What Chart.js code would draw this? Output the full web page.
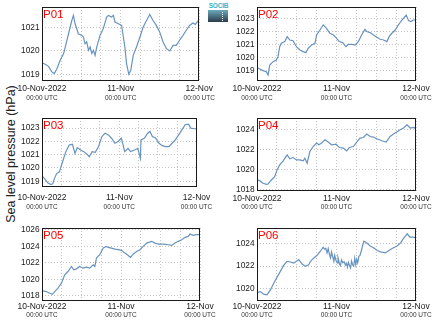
<!DOCTYPE html>
<html><head><meta charset="utf-8">
<script src="https://cdn.jsdelivr.net/npm/chart.js@4.4.0/dist/chart.umd.min.js"></script>
<style>
html,body{margin:0;padding:0;background:#fff;}
#fig{position:relative;width:434px;height:327px;overflow:hidden;background:#fff;font-family:"Liberation Sans",Arial,sans-serif;}
canvas{position:absolute;}
.plab{position:absolute;color:#ff0000;font-size:11.5px;line-height:11.5px;white-space:nowrap;}
#ytitle{position:absolute;left:-89px;top:147px;width:200px;height:14px;line-height:14px;text-align:center;font-size:12.5px;color:#222;transform:rotate(-90deg);white-space:nowrap;}
#logoText{position:absolute;left:208px;top:2px;width:21px;text-align:center;font-size:6.5px;line-height:7px;font-weight:bold;color:#3ab3c8;letter-spacing:-0.2px;}
#logoBox{position:absolute;left:208px;top:10px;width:20px;height:12px;background:linear-gradient(#6aaabb,#2c3c4a);}
#logoDots{position:absolute;left:14px;top:2px;height:9px;border-left:1px dotted #fff;}
</style></head>
<body><div id="fig">
<div id="ytitle">Sea level pressure (hPa)</div>
<div id="logoText">SOCIB</div>
<div id="logoBox"><div id="logoDots"></div></div>
</div>
<script>
// ---- data (hours since 10-Nov-2022 00:00 UTC, sea level pressure in hPa) ----
const panelNames = ['P01','P02','P03','P04','P05','P06'];
const xTickHours = [0, 24, 48];
const xTickLabels = ['10-Nov-2022', '11-Nov', '12-Nov'];
const xSubLabel = '00:00 UTC';
const xGridHours = [0, 6, 12, 18, 24, 30, 36, 42, 48];

const p01Hours = [0,1,2,3,3.75,4.55,5.55,6.6,7.1,8.1,9.1,9.6,10.1,11.1,12.15,12.65,13.15,13.65,14.2,14.7,15.2,15.7,16.2,16.7,17.7,18.7,19.75,20.25,21.25,21.8,22.3,23.3,24.3,25.3,25.8,26.5,27.1,27.85,28.85,29.9,30.9,31.9,32.9,33.9,34.9,35.95,36.95,38,39,40,41,42,43.05,44.05,45.05,46.1,46.8,47.6,48];
const p01Values = [1019.49,1019.43,1019.34,1019.10,1019.03,1019.24,1019.60,1019.89,1020.17,1020.74,1021.31,1021.53,1021.17,1020.74,1020.67,1020.60,1020.31,1020.39,1020.03,1020.17,1019.89,1020.03,1019.81,1020.17,1020.67,1020.96,1021.46,1021.53,1021.46,1021.53,1021.24,1021.17,1021.10,1020.17,1019.46,1019.00,1019.17,1019.81,1020.17,1020.60,1021.03,1021.31,1021.57,1021.31,1021.10,1020.81,1020.39,1020.10,1020.00,1020.24,1020.24,1020.46,1020.67,1020.89,1021.10,1021.20,1021.14,1021.29,1021.31];

const p02Hours = [0,0.8,1.8,2.8,3.35,3.85,4.85,5.85,6.35,6.85,7.35,8.4,9.1,9.9,10.9,11.9,12.95,13.95,14.75,15.45,16.45,17.5,18,19,20,21,22,23.05,24.05,24.85,25.85,26.85,27.6,28.6,29.6,30.6,31.6,32.6,33.15,34.15,35.15,36.15,37.2,38.2,39.2,39.9,40.7,41.7,42.7,43.75,45.05,45.75,46.45,47.25,48];
const p02Values = [1019.26,1019.15,1019.03,1018.95,1018.70,1019.46,1019.72,1019.85,1020.10,1020.87,1021.13,1021.26,1021.64,1021.38,1021.33,1020.87,1020.62,1020.49,1020.41,1020.74,1021.00,1021.13,1021.77,1022.15,1022.54,1022.28,1021.90,1021.77,1021.51,1021.26,1021.18,1020.87,1021.05,1021.05,1021.00,1021.26,1021.77,1022.20,1022.03,1021.95,1021.77,1021.59,1021.44,1021.38,1021.26,1021.64,1021.90,1022.15,1022.54,1022.92,1023.30,1022.87,1022.80,1022.92,1022.92];

const p03Hours = [0,0.8,1.85,2.85,3.35,3.85,4.55,5.4,6.4,7.4,8.45,9.45,10.25,10.95,12,13,14,14.7,15.55,16.55,17.55,18.6,19.6,20.6,21.6,22.65,23.65,24.65,25.7,26.7,27.5,28.75,29.75,30.55,30.75,31.8,32.8,33.5,34.3,35.35,36.35,37.35,38.4,39.4,40.4,41.4,42.45,43.45,44.45,45.5,46.2,47.2,48];
const p03Values = [1019.40,1019.20,1018.87,1018.75,1018.82,1019.20,1019.58,1019.71,1020.47,1021.23,1021.73,1021.78,1021.10,1021.53,1021.35,1021.23,1021.03,1020.85,1021.23,1021.18,1021.61,1022.37,1022.62,1022.49,1022.24,1021.86,1021.99,1022.24,1021.23,1021.48,1021.23,1021.35,1021.48,1020.72,1022.11,1022.24,1022.62,1022.75,1022.37,1022.24,1021.86,1021.68,1021.61,1021.61,1021.86,1022.11,1022.49,1022.87,1023.25,1023.30,1023.00,1022.95,1022.95];

const p04Hours = [0,0.8,1.8,2.85,3.35,4.35,5.35,6.05,6.85,7.9,9.1,9.9,10.9,11.9,12.95,13.95,14.45,15.15,15.95,16.95,18,18.7,19.5,20.5,21.5,22.5,23.85,24.85,26.05,27.05,27.9,29.1,30.1,31.1,32.1,33.15,34.15,35.15,36.15,37.7,39,40.2,41.2,42.2,43.25,44.25,45.25,46.3,47.3,48];
const p04Values = [1019.00,1018.93,1018.67,1018.57,1018.60,1019.00,1019.33,1020.00,1020.50,1020.90,1021.50,1021.10,1021.23,1021.00,1021.00,1020.90,1021.17,1020.67,1021.83,1022.33,1022.67,1022.50,1022.67,1023.00,1022.77,1022.50,1022.57,1022.23,1022.17,1021.90,1022.23,1022.33,1022.77,1023.17,1023.23,1023.57,1023.33,1023.27,1023.10,1022.90,1022.77,1023.33,1023.57,1023.77,1024.00,1024.17,1024.50,1024.17,1024.23,1024.10];

const p05Hours = [0,1.3,2.35,3.15,3.85,4.85,5.9,6.9,7.9,8.95,9.65,10.45,11.45,12.5,13.5,14.5,15.55,16.05,16.55,17.55,18.6,19.6,20.1,21.1,22.15,23.15,24.15,25.2,26.2,26.9,27.7,28.75,29.75,30.75,31.8,33.3,34.3,35.35,36.85,38.4,39.4,40.4,41.4,42.45,43.45,44.45,44.95,46,47,48];
const p05Values = [1018.65,1018.53,1018.32,1018.20,1018.53,1018.93,1019.54,1020.55,1020.95,1021.56,1021.15,1021.27,1021.56,1021.35,1021.47,1021.35,1021.76,1021.56,1022.57,1022.97,1023.78,1023.98,1023.86,1023.78,1023.66,1023.58,1023.50,1023.17,1022.89,1022.65,1023.05,1023.37,1023.58,1023.98,1024.38,1024.59,1024.38,1024.26,1024.26,1024.18,1024.10,1024.38,1024.59,1024.79,1025.07,1025.19,1025.47,1025.31,1025.39,1025.39];

const p06Hours = [0,1,2,3,4.05,5.05,6.05,7.05,8.05,9.05,10.1,11.1,11.9,12.6,13.6,14.6,15.6,16.15,17.15,18.15,19.15,19.95,20.4,20.75,21.15,21.5,21.9,22.2,22.5,22.8,23.2,23.45,23.8,24.2,24.45,24.9,25.2,25.5,25.9,26.3,26.7,27.0,27.3,27.6,28.0,28.25,28.55,28.9,29.2,29.5,29.8,30.1,30.4,30.75,31.1,31.45,32.25,33.05,34.3,35.3,36.3,37.3,38.8,39.8,40.8,42.15,43.35,44.35,45.35,46.15,47.2,48];
const p06Values = [1019.67,1019.76,1019.53,1019.47,1019.91,1020.50,1021.01,1021.54,1022.07,1022.43,1022.37,1022.28,1022.43,1022.58,1022.19,1021.99,1022.13,1022.43,1022.73,1022.96,1023.32,1023.67,1023.50,1023.58,1023.17,1023.55,1023.00,1022.73,1023.25,1022.90,1022.43,1022.95,1022.55,1022.30,1022.75,1022.20,1022.05,1022.55,1022.30,1022.40,1022.10,1022.25,1021.90,1022.35,1022.00,1021.84,1022.45,1022.10,1022.00,1022.70,1022.15,1022.60,1022.30,1022.87,1022.95,1023.32,1024.21,1024.06,1023.76,1023.61,1023.38,1023.26,1023.17,1023.38,1023.56,1023.76,1024.06,1024.50,1024.86,1024.56,1024.56,1024.50];

const p01YTicks = [1019, 1020, 1021];
const p02YTicks = [1019, 1020, 1021, 1022, 1023];
const p03YTicks = [1019, 1020, 1021, 1022, 1023];
const p04YTicks = [1018, 1020, 1022, 1024];
const p05YTicks = [1018, 1020, 1022, 1024, 1026];
const p06YTicks = [1020, 1022, 1024];

// ---- layout (page pixels) ----
const layouts = [
  {cx:0,   cy:0,   cw:217, ch:107, L:42,  T:7,   R:200, B:81,  yMin:1018.71, yMax:1021.89, labY:88.8,  utcY:98.7},
  {cx:217, cy:0,   cw:217, ch:107, L:257, T:7,   R:416, B:81,  yMin:1018.23, yMax:1023.92, labY:88.8,  utcY:98.7},
  {cx:0,   cy:107, cw:217, ch:110, L:42,  T:118, R:200, B:187, yMin:1018.57, yMax:1023.76, labY:198,   utcY:207.5},
  {cx:217, cy:107, cw:217, ch:110, L:257, T:118, R:416, B:191, yMin:1017.90, yMax:1025.17, labY:198.3, utcY:207.5},
  {cx:0,   cy:217, cw:217, ch:110, L:42,  T:228, R:200, B:301, yMin:1017.39, yMax:1026.20, labY:306.3, utcY:315},
  {cx:217, cy:217, cw:217, ch:110, L:257, T:228, R:416, B:301, yMin:1018.93, yMax:1025.37, labY:306.5, utcY:315}
];
const series = [
  [p01Hours, p01Values, p01YTicks],
  [p02Hours, p02Values, p02YTicks],
  [p03Hours, p03Values, p03YTicks],
  [p04Hours, p04Values, p04YTicks],
  [p05Hours, p05Values, p05YTicks],
  [p06Hours, p06Values, p06YTicks]
];

const framePlugin = {
  id: 'frame',
  afterDraw(chart) {
    const a = chart.chartArea, ctx = chart.ctx;
    ctx.save();
    ctx.strokeStyle = '#1a1a1a';
    ctx.lineWidth = 1;
    const l = Math.round(a.left) + 0.5, t = Math.round(a.top) + 0.5;
    const r = Math.round(a.right) - 0.5, b = Math.round(a.bottom) - 0.5;
    ctx.strokeRect(l, t, r - l, b - t);
    ctx.restore();
  }
};

const fig = document.getElementById('fig');
const FONT = '"Liberation Sans", Arial, sans-serif';
const X1SIZE = 8.5, X2SIZE = 6.5, YSIZE = 8.3;

layouts.forEach((g, i) => {
  const [hours, vals, yTicks] = series[i];
  const cv = document.createElement('canvas');
  cv.width = g.cw; cv.height = g.ch;
  cv.style.left = g.cx + 'px'; cv.style.top = g.cy + 'px';
  cv.style.width = g.cw + 'px'; cv.style.height = g.ch + 'px';
  fig.appendChild(cv);

  const lab = document.createElement('div');
  lab.className = 'plab';
  lab.textContent = panelNames[i];
  lab.style.left = (g.L + 1) + 'px';
  lab.style.top = (g.T + 2.2) + 'px';
  fig.appendChild(lab);

  const h1 = g.labY + 4.6 - g.B;
  const pad1 = g.labY - g.B - X1SIZE / 2;
  const top2 = g.B + h1;
  const h2 = g.cy + g.ch - top2;
  const pad2 = g.utcY - top2 - X2SIZE / 2;

  const pts = hours.map((h, k) => ({x: h, y: vals[k]}));

  new Chart(cv, {
    type: 'line',
    data: {datasets: [{data: pts, xAxisID: 'x', yAxisID: 'y',
      borderColor: '#6893c1', borderWidth: 1.2, pointRadius: 0, tension: 0, fill: false}]},
    options: {
      responsive: false, animation: false, devicePixelRatio: 1,
      plugins: {legend: {display: false}, tooltip: {enabled: false}, title: {display: false}},
      layout: {padding: {left: 0, right: g.cx + g.cw - g.R, top: g.T - g.cy, bottom: 0}},
      scales: {
        x: {
          type: 'linear', position: 'bottom', min: 0, max: 48, weight: 0,
          afterBuildTicks: s => { s.ticks = xGridHours.map(v => ({value: v})); },
          afterFit: s => { s.height = h1; },
          grid: {display: true, color: '#c4c4c4', lineWidth: 1, drawTicks: false, tickLength: 0},
          border: {display: false, dash: [1, 2]},
          ticks: {
            autoSkip: false, maxRotation: 0, minRotation: 0, padding: pad1,
            color: '#1a1a1a', font: {family: FONT, size: X1SIZE, lineHeight: 1},
            callback: v => { const k = xTickHours.indexOf(v); return k >= 0 ? xTickLabels[k] : ''; }
          }
        },
        x2: {
          type: 'linear', position: 'bottom', min: 0, max: 48, weight: 1,
          afterBuildTicks: s => { s.ticks = xTickHours.map(v => ({value: v})); },
          afterFit: s => { s.height = h2; },
          grid: {display: false, drawTicks: false},
          border: {display: false},
          ticks: {
            autoSkip: false, maxRotation: 0, minRotation: 0, padding: pad2,
            color: '#333', font: {family: FONT, size: X2SIZE, lineHeight: 1},
            callback: () => xSubLabel
          }
        },
        y: {
          type: 'linear', position: 'left', min: g.yMin, max: g.yMax,
          afterBuildTicks: s => { s.ticks = yTicks.map(v => ({value: v})); },
          afterFit: s => { s.width = g.L - g.cx; },
          grid: {display: true, color: '#c4c4c4', lineWidth: 1, drawTicks: false, tickLength: 0},
          border: {display: false, dash: [1, 2]},
          ticks: {padding: 2.5, color: '#1a1a1a', font: {family: FONT, size: YSIZE, lineHeight: 1},
            callback: v => String(v)}
        }
      }
    },
    plugins: [framePlugin]
  });
});
</script>
</body></html>
